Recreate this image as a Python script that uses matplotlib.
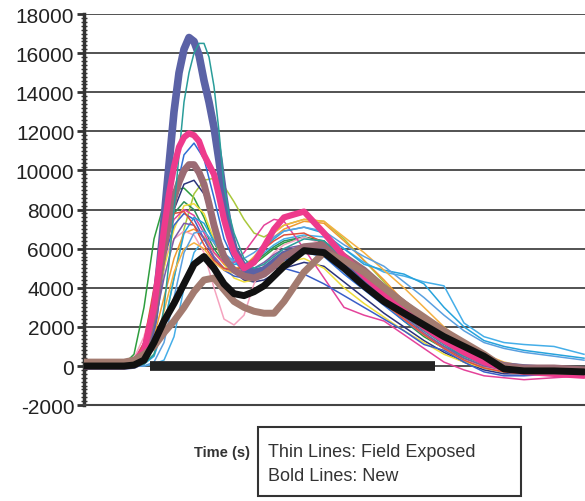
import matplotlib
matplotlib.use("Agg")
import matplotlib.pyplot as plt
from matplotlib.ticker import MultipleLocator
from matplotlib.patches import Rectangle

plt.rcParams['font.family'] = ['Liberation Sans', 'DejaVu Sans']
plt.rcParams['axes.unicode_minus'] = False

# time grid (s) shared by most traces
t = [0, 4, 5, 6, 7, 8, 9, 10, 11, 12, 13, 14, 15, 16, 17, 18, 19, 20, 22, 24,
     26, 28, 30, 32, 34, 36, 38, 40, 42, 44, 47, 50]
# finer grid for the tall peaks
t_fine = [0, 4, 5, 6, 7, 7.5, 8, 8.5, 9, 9.5, 10, 10.5, 11, 11.5, 12, 12.5, 13, 13.5, 14, 14.5,
          15, 16, 17, 18, 19, 20, 22, 24, 26, 28, 30, 32, 34, 36, 38, 40, 42, 44, 47, 50]

# thin lines: field exposed
thin_teal = [0, 0, 0, 100, 600, 1500, 3000, 5300, 8000, 10800, 13500, 15000, 16000, 16500, 16500, 15800, 14300, 12000, 9200, 7800,
             6800, 5500, 5000, 5200, 5600, 6000, 6500, 6400, 5500, 4600, 3600, 2600, 1800, 1100, 500, 100, -100, -200, -200, -300]
thin_green = [0, 100, 600, 3000, 6500, 8300, 9000, 9100, 8600, 7600, 6300, 5400, 5000, 5000, 5200, 5600, 6000, 6300, 6600, 6400,
              5400, 4300, 3200, 2300, 1500, 900, 400, 0, -200, -300, -300, -400]
thin_ygreen = [0, 0, 0, 100, 600, 2000, 4500, 7000, 8800, 9500, 9600, 9200, 8400, 7500, 6800, 6600, 6900, 7200, 7500, 7400,
               6500, 5400, 4300, 3200, 2300, 1500, 800, 300, 0, -100, -200, -200]
thin_blue = [0, 0, 50, 300, 1500, 5000, 8500, 10800, 11400, 10600, 8600, 6500, 5400, 4800, 4600, 4700, 5000, 5400, 5800, 5600,
             4700, 3900, 3100, 2300, 1600, 1000, 500, 100, -100, -200, -200, -300]
thin_navy = [0, 0, 100, 500, 2500, 5500, 8000, 9300, 9500, 8800, 7200, 5700, 4800, 4400, 4300, 4400, 4700, 5000, 5300, 5100,
             4300, 3500, 2700, 2000, 1300, 700, 200, -200, -400, -400, -300, -300]
thin_yellow = [0, 0, 100, 600, 2500, 5000, 7000, 8200, 8300, 7800, 6500, 5200, 4500, 4300, 4400, 4700, 5000, 5300, 5500, 5000,
               4000, 3200, 2500, 1800, 1200, 600, 200, -100, -300, -300, -400, -400]
thin_orange = [0, 0, 50, 300, 1500, 3500, 5500, 6800, 7000, 6600, 5800, 5200, 5000, 5100, 5500, 6000, 6600, 7000, 7400, 7300,
               6400, 5400, 4400, 3300, 2300, 1400, 700, 200, 0, -100, -200, -200]
thin_lblue = [0, 0, 0, 0, 100, 300, 1500, 4000, 5800, 6500, 6400, 5800, 5300, 5200, 5400, 5800, 6200, 6500, 6700, 6600,
              6000, 5300, 4800, 4600, 4300, 4100, 2200, 1500, 1200, 1100, 1000, 600]
thin_lpink = [0, 100, 400, 1500, 3500, 5500, 6500, 6900, 6700, 5800, 4000, 2400, 2100, 2600, 4200, 5200, 5800, 6200, 6600, 6200,
              5200, 4200, 3200, 2400, 1600, 900, 300, 0, -300, -400, -500, -500]
thin_magenta = [0, 50, 300, 1200, 3500, 6000, 7500, 8000, 7700, 6800, 5800, 5300, 5300, 5800, 6500, 7200, 7500, 7400, 6000, 4500,
                3000, 2600, 2300, 1600, 900, 200, -200, -500, -600, -700, -600, -500]
thin_mblue = [0, 0, 100, 800, 3000, 5500, 7200, 7800, 7500, 6500, 5500, 4900, 4600, 4500, 4600, 4800, 5000, 5000, 4700, 4200,
              3600, 3000, 2400, 1800, 1100, 800, 200, -300, -500, -500, -400, -400]
thin_cyan = [0, 0, 0, 100, 500, 2000, 4500, 6800, 7600, 7300, 6400, 5600, 5200, 5200, 5500, 6000, 6500, 6900, 7100, 6800,
             6000, 5200, 4900, 4700, 4200, 3000, 2000, 1300, 1000, 800, 600, 400]
thin_purple = [0, 0, 50, 400, 2000, 4500, 6500, 7300, 7200, 6500, 5600, 5000, 4800, 4800, 5000, 5300, 5700, 6000, 6200, 5900,
               5000, 4100, 3300, 2500, 1700, 1000, 400, 0, -200, -300, -300, -300]
thin_orange2 = [0, 0, 0, 200, 1000, 2800, 4800, 6000, 6300, 6000, 5300, 4900, 4800, 5100, 5600, 6200, 6800, 7200, 7500, 7400,
                6600, 5800, 4900, 4000, 3000, 2000, 1200, 600, 200, 0, -100, -100]
thin_red = [0, 0, 200, 1200, 4000, 6500, 7800, 7900, 7200, 6200, 5400, 5000, 4900, 5100, 5500, 6000, 6400, 6700, 6800, 6300,
            5200, 4200, 3200, 2400, 1600, 900, 300, -100, -300, -400, -400, -400]
thin_dgreen = [0, 0, 100, 700, 3000, 6000, 7800, 8400, 8000, 7000, 6000, 5300, 5000, 5000, 5300, 5700, 6100, 6400, 6600, 6300,
               5300, 4300, 3300, 2400, 1600, 900, 300, -100, -300, -300, -300, -300]
thin_sky = [0, 0, 0, 0, 200, 1200, 3500, 5800, 6800, 6900, 6300, 5700, 5400, 5500, 5800, 6200, 6600, 6900, 7100, 6900,
            6200, 5600, 5100, 4300, 3500, 2600, 1800, 1200, 900, 700, 500, 300]

# bold lines: new
bold_blue = [0, 0, 50, 300, 2500, 4800, 7500, 10300, 13000, 15000, 16200, 16800, 16600, 15900, 14600, 13500, 12200, 10500, 8600, 7000,
             6000, 5000, 4800, 4900, 5300, 5700, 6000, 5900, 5200, 4400, 3600, 2800, 2000, 1400, 800, 300, 0, -100, -200, -300]
bold_pink = [0, 50, 200, 800, 3000, 5000, 7000, 8800, 10200, 11200, 11700, 11900, 11800, 11500, 10800, 10300, 9800, 8700, 7500, 6600,
             5800, 5000, 5300, 6100, 7000, 7600, 7900, 6800, 5600, 4600, 3700, 2800, 2000, 1300, 700, 200, -100, -300, -400, -500]
bold_mauve = [0, 0, 100, 600, 2800, 4500, 6000, 7400, 8600, 9400, 10000, 10300, 10300, 9900, 9300, 8300, 7200, 6300, 5600, 5200,
              4900, 4600, 4500, 4700, 5100, 5600, 6100, 6200, 5600, 4900, 4000, 3200, 2400, 1700, 1000, 400, 0, -100, -100, -200]
bold_brown = [200, 200, 300, 600, 1000, 1700, 2300, 3000, 3800, 4400, 4500, 3900, 3300, 3000, 2800, 2700, 2700, 3300, 4800, 5800,
              5400, 4800, 4000, 3200, 2500, 1800, 1200, 600, -100, -250, -250, -300]
bold_black = [0, 0, 50, 300, 1200, 2300, 3200, 4200, 5200, 5600, 5000, 4200, 3700, 3600, 3800, 4100, 4600, 5100, 5900, 5800,
              5000, 4100, 3300, 2700, 2100, 1500, 1000, 500, -150, -250, -250, -300]
zero_t = [6.6, 35.1]
zero_v = [0, 0]

thin = [(thin_green, "#2e9e3e"), (thin_ygreen, "#a9c83c"), (thin_dgreen, "#2f8f5a"),
        (thin_blue, "#2f6fd6"), (thin_navy, "#2b347c"), (thin_yellow, "#eedd3a"),
        (thin_orange, "#f09a30"), (thin_lblue, "#45aee8"), (thin_lpink, "#f5a3bf"),
        (thin_magenta, "#e4439a"), (thin_mblue, "#3a5fc8"), (thin_cyan, "#27a3dc"),
        (thin_purple, "#7d5ba6"), (thin_orange2, "#f5b041"), (thin_red, "#e0503a"),
        (thin_sky, "#5aa0e0")]

fig = plt.figure(figsize=(5.85, 5.02), dpi=100)
ax = fig.add_axes([0.1436, 0.191, 0.8564, 0.779])

ax.plot(zero_t, zero_v, color="#222222", lw=7, solid_capstyle="butt", zorder=3)
for vals, c in thin:
    ax.plot(t, vals, color=c, lw=1.1, zorder=2)
ax.plot(t_fine, thin_teal, color="#2a9d9a", lw=1.1, zorder=4.5)

bold = dict(solid_joinstyle="round", solid_capstyle="round")
ax.plot(t_fine, bold_blue, color="#5b62a6", lw=5.5, zorder=4, **bold)
ax.plot(t_fine, bold_mauve, color="#9b6b74", lw=5, zorder=4, **bold)
ax.plot(t_fine, bold_pink, color="#ee3a8c", lw=4.5, zorder=5, **bold)
ax.plot(t, bold_brown, color="#a37b70", lw=5, zorder=5, **bold)
ax.plot(t, bold_black, color="#111111", lw=5, zorder=6, **bold)

ax.set_xlim(0, 50.1)
ax.set_ylim(-2000, 18000)
ax.yaxis.set_major_locator(MultipleLocator(2000))
ax.yaxis.set_minor_locator(MultipleLocator(200))
ax.set_xticks([])
ax.grid(axis="y", color="#444444", lw=1.3, zorder=0)
ax.set_axisbelow(True)
for s in ["top", "right"]:
    ax.spines[s].set_visible(False)
ax.spines["left"].set_linewidth(2.5)
ax.spines["left"].set_color("#333333")
ax.spines["bottom"].set_linewidth(1.5)
ax.spines["bottom"].set_color("#444444")
ax.tick_params(axis="y", which="major", direction="out", length=5, width=2, color="#333333",
               labelsize=15, labelcolor="#222222", pad=2)
ax.tick_params(axis="y", which="minor", direction="inout", length=4, width=1, color="#333333")

fig.text(0.428, 0.098, "Time (s)", fontsize=10.5, fontweight="bold", color="#333333",
         ha="right", va="center")
fig.patches.append(Rectangle((0.441, 0.010), 0.450, 0.137, transform=fig.transFigure,
                             fill=False, ec="#333333", lw=1.5))
fig.text(0.458, 0.098, "Thin Lines: Field Exposed", fontsize=13, color="#333333", va="center")
fig.text(0.458, 0.050, "Bold Lines: New", fontsize=13, color="#333333", va="center")

fig.savefig("out.png", dpi=100)
